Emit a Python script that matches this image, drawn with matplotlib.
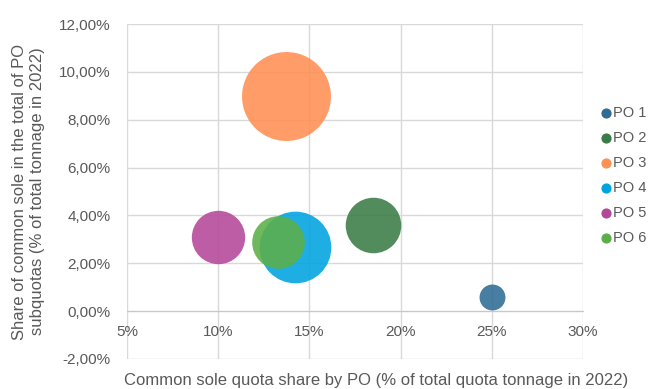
import numpy as np
import matplotlib.pyplot as plt
from matplotlib.ticker import FuncFormatter, MultipleLocator

plt.rcParams['font.family'] = ['Liberation Sans', 'DejaVu Sans']

# --- data ---
names = ['PO 1', 'PO 2', 'PO 3', 'PO 4', 'PO 5', 'PO 6']
quota_share = [25.0, 18.5, 13.7, 14.2, 10.0, 13.3]      # x, % of total quota tonnage
sole_share = [0.6, 3.6, 9.0, 2.7, 3.1, 2.9]             # y, % of PO subquotas
bubble_size = [0.085, 0.39, 1.0, 0.65, 0.36, 0.35]      # relative bubble area
colors = ['#2E6C95', '#3A7C45', '#FF8F52', '#00A3E0', '#B4479A', '#5CAF48']

grey = '#595959'
grid_col = '#D9D9D9'

fig = plt.figure(figsize=(6.49, 3.89), dpi=100)
ax = fig.add_axes([127 / 649, 30 / 389, 456 / 649, 335 / 389])

max_s = 4100
for n, x, y, s, c in zip(names, quota_share, sole_share, bubble_size, colors):
    ax.scatter(x, y, s=s * max_s, color=c, alpha=0.88, linewidths=0, zorder=3)
    # small marker for the legend
    ax.scatter([], [], s=40, color=c, label=n)

ax.set_xlim(5, 30)
ax.set_ylim(-2, 12)
ax.xaxis.set_major_locator(MultipleLocator(5))
ax.yaxis.set_major_locator(MultipleLocator(2))
ax.xaxis.set_major_formatter(FuncFormatter(lambda v, p: f'{v:.0f}%'))
ax.yaxis.set_major_formatter(FuncFormatter(lambda v, p: f'{v:.2f}%'.replace('.', ',')))

ax.grid(True, color=grid_col, linewidth=1, zorder=0)
for side in ['top', 'right', 'left']:
    ax.spines[side].set_visible(False)
ax.spines['bottom'].set_position(('data', 0))
ax.spines['bottom'].set_color('#C8C8C8')
ax.tick_params(axis='both', length=0, labelsize=11, colors=grey)
ax.tick_params(axis='x', pad=10)
ax.tick_params(axis='y', pad=12)

ax.set_ylabel('Share of common sole in the total of PO\nsubquotas (% of total tonnage in 2022)',
              fontsize=12, color=grey, labelpad=10, linespacing=1.25)
fig.text(376 / 649, 9 / 389, 'Common sole quota share by PO (% of total quota tonnage in 2022)',
         ha='center', va='center', fontsize=12, color=grey)

leg = ax.legend(loc='upper left', bbox_to_anchor=(600 / 649, 1 - 106 / 389),
                bbox_transform=fig.transFigure, frameon=False, fontsize=10.5,
                labelspacing=0.75, handletextpad=0.1, borderaxespad=0, handlelength=0.8,
                borderpad=0)
for t in leg.get_texts():
    t.set_color(grey)

fig.savefig('out.png', dpi=100)
